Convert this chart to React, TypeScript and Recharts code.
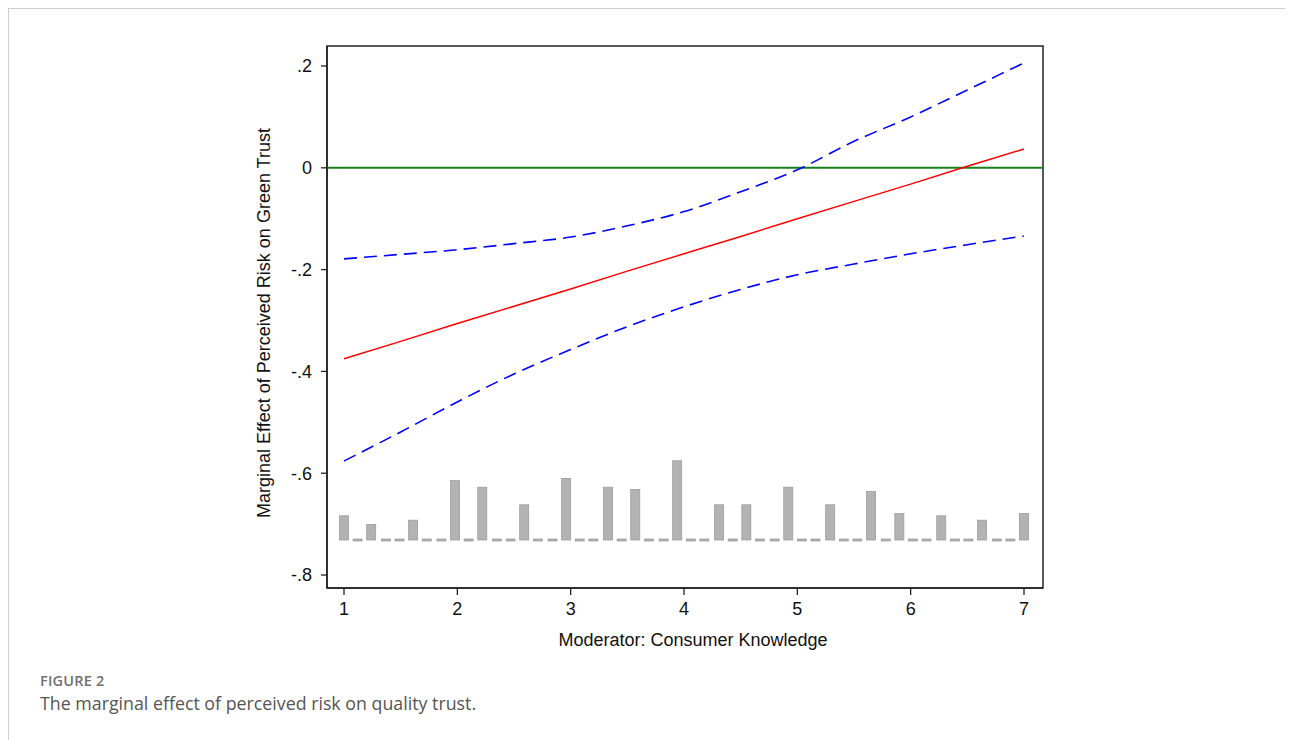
import { ComposedChart, Line, Bar, XAxis, YAxis, ReferenceLine, ReferenceArea, Label } from "recharts";

// moderator values (x) where the curves were read
const xs = [1, 1.5, 2, 2.5, 3, 3.5, 4, 4.5, 5, 5.5, 6, 6.5, 7];
const estimate = [-0.375, -0.341, -0.306, -0.272, -0.238, -0.203, -0.169, -0.135, -0.1, -0.066, -0.032, 0.003, 0.037];
const upperCI = [-0.179, -0.17, -0.161, -0.149, -0.136, -0.114, -0.086, -0.047, -0.004, 0.052, 0.1, 0.153, 0.206];
const lowerCI = [-0.576, -0.519, -0.46, -0.405, -0.357, -0.312, -0.273, -0.239, -0.21, -0.189, -0.169, -0.151, -0.134];

// histogram of the moderator (bin centres and counts)
const binCenters = [
  1.0, 1.12, 1.24, 1.37, 1.49, 1.61, 1.73, 1.86, 1.98, 2.1,
  2.22, 2.35, 2.47, 2.59, 2.71, 2.84, 2.96, 3.08, 3.2, 3.33,
  3.45, 3.57, 3.69, 3.82, 3.94, 4.06, 4.18, 4.31, 4.43, 4.55,
  4.67, 4.8, 4.92, 5.04, 5.16, 5.29, 5.41, 5.53, 5.65, 5.78,
  5.9, 6.02, 6.14, 6.27, 6.39, 6.51, 6.63, 6.76, 6.88, 7.0,
];
const binCounts = [
  11, 0, 7, 0, 0, 9, 0, 0, 27, 0,
  24, 0, 0, 16, 0, 0, 28, 0, 0, 24,
  0, 23, 0, 0, 36, 0, 0, 16, 0, 16,
  0, 0, 24, 0, 0, 16, 0, 0, 22, 0,
  12, 0, 0, 11, 0, 0, 9, 0, 0, 12,
];

const xTicks = [1, 2, 3, 4, 5, 6, 7];
const yTicks = [-0.8, -0.6, -0.4, -0.2, 0, 0.2];
const xDomain: [number, number] = [0.85, 7.1677];
const yDomain: [number, number] = [-0.8255, 0.2393];

const histData = binCenters.map((x, i) => ({ x, count: binCounts[i] }));
const estData = xs.map((x, i) => ({ x, y: estimate[i] }));
const upperData = xs.map((x, i) => ({ x, y: upperCI[i] }));
const lowerData = xs.map((x, i) => ({ x, y: lowerCI[i] }));

const fmtY = (v: number) => {
  if (v === 0) return "0";
  return v.toFixed(1).replace("0.", ".");
};

const FONT = "Liberation Sans, Arial, sans-serif";
const axisFont = { fontSize: 18, fill: "#111", fontFamily: FONT };

// stata-style histogram bar: fixed width, empty bins drawn as a flat dash
const HistBar = (props: any) => {
  const { x, width, y, height } = props;
  const cx = x + width / 2;
  const h = Math.max(Math.abs(height), 2);
  const top = Math.abs(height) < 2 ? y + height - 1 : y;
  return <rect x={cx - 4.5} y={top} width={9} height={h} fill="#b3b3b3" stroke="#9c9c9c" strokeWidth={0.8} />;
};

export default function App() {
  return (
    <div
      style={{
        position: "relative",
        width: 1284,
        height: 760,
        border: "1px solid #cfcfcf",
        boxSizing: "border-box",
        fontFamily: "Open Sans, sans-serif",
      }}
    >
      <ComposedChart
        width={1284}
        height={700}
        data={histData}
        margin={{ top: 37, right: 250, bottom: 61, left: 258 }}
      >
        <XAxis
          dataKey="x"
          type="number"
          domain={xDomain}
          allowDataOverflow
          ticks={xTicks}
          tickSize={7}
          tickMargin={7}
          height={60}
          tick={axisFont}
          axisLine={{ stroke: "#222", strokeWidth: 1.5 }}
          tickLine={{ stroke: "#222", strokeWidth: 1.3 }}
        >
          <Label
            content={({ viewBox }: any) => (
              <text
                x={viewBox.x + viewBox.width / 2 + 8}
                y={viewBox.y + 58}
                textAnchor="middle"
                fontSize={18}
                fill="#111"
                fontFamily={FONT}
              >
                Moderator: Consumer Knowledge
              </text>
            )}
          />
        </XAxis>
        <YAxis
          type="number"
          domain={yDomain}
          allowDataOverflow
          ticks={yTicks}
          tickFormatter={fmtY}
          tickSize={6}
          tickMargin={9}
          width={60}
          tick={axisFont}
          axisLine={{ stroke: "#222", strokeWidth: 1.5 }}
          tickLine={{ stroke: "#222", strokeWidth: 1.3 }}
        >
          <Label
            content={({ viewBox }: any) => {
              const cx = viewBox.x - 3;
              const cy = viewBox.y + viewBox.height / 2 + 6;
              return (
                <text
                  x={cx}
                  y={cy}
                  transform={`rotate(-90, ${cx}, ${cy})`}
                  textAnchor="middle"
                  dominantBaseline="central"
                  fontSize={18}
                  fill="#111"
                  fontFamily={FONT}
                >
                  Marginal Effect of Perceived Risk on Green Trust
                </text>
              );
            }}
          />
        </YAxis>
        <YAxis
          yAxisId="hist"
          orientation="right"
          type="number"
          domain={[-21.82, 224.55]}
          allowDataOverflow
          width={0}
          hide
        />
        {/* plot frame */}
        <ReferenceArea
          x1={xDomain[0]}
          x2={xDomain[1]}
          y1={yDomain[0]}
          y2={yDomain[1]}
          fill="none"
          fillOpacity={0}
          stroke="#222"
          strokeWidth={1.5}
          ifOverflow="visible"
        />
        <Bar
          yAxisId="hist"
          dataKey="count"
          shape={HistBar}
          isAnimationActive={false}
        />
        <ReferenceLine y={0} stroke="#1a7f1a" strokeWidth={2} />
        <Line
          data={upperData}
          dataKey="y"
          type="monotone"
          stroke="#0000ff"
          strokeWidth={1.6}
          strokeDasharray="13 7"
          dot={false}
          activeDot={false}
          isAnimationActive={false}
        />
        <Line
          data={lowerData}
          dataKey="y"
          type="monotone"
          stroke="#0000ff"
          strokeWidth={1.6}
          strokeDasharray="13 7"
          dot={false}
          activeDot={false}
          isAnimationActive={false}
        />
        <Line
          data={estData}
          dataKey="y"
          type="linear"
          stroke="#ff0000"
          strokeWidth={1.5}
          dot={false}
          activeDot={false}
          isAnimationActive={false}
        />
      </ComposedChart>
      <div
        style={{
          position: "absolute",
          left: 31,
          top: 662,
          fontSize: 14.5,
          fontWeight: 600,
          color: "#707070",
          letterSpacing: 0.2,
        }}
      >
        FIGURE 2
      </div>
      <div
        style={{
          position: "absolute",
          left: 31,
          top: 682,
          fontSize: 17.8,
          color: "#555",
        }}
      >
        The marginal effect of perceived risk on quality trust.
      </div>
    </div>
  );
}
